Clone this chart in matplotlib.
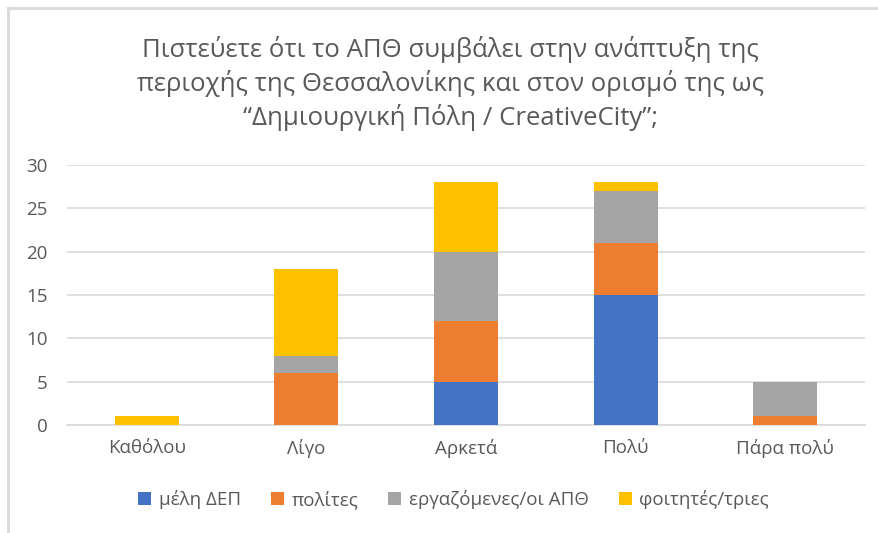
import matplotlib
matplotlib.use("Agg")
import matplotlib.pyplot as plt
from matplotlib.lines import Line2D
import numpy as np

plt.rcParams['font.family'] = ['Open Sans', 'DejaVu Sans']

categories = ["Καθόλου", "Λίγο", "Αρκετά", "Πολύ", "Πάρα πολύ"]
series_names = ["μέλη ΔΕΠ", "πολίτες", "εργαζόμενες/οι ΑΠΘ", "φοιτητές/τριες"]
dep = [0, 0, 5, 15, 0]
polites = [0, 6, 7, 6, 1]
ergazomenoi = [0, 2, 8, 6, 4]
foitites = [1, 10, 8, 1, 0]
colors = ["#4472C4", "#ED7D31", "#A5A5A5", "#FFC000"]

title = ("Πιστεύετε ότι το ΑΠΘ συμβάλει στην ανάπτυξη της\n"
         "περιοχής της Θεσσαλονίκης και στον ορισμό της ως\n"
         "“Δημιουργική Πόλη / CreativeCity”;")

txt = "#595959"

fig = plt.figure(figsize=(8.79, 5.33), dpi=100)
ax = fig.add_axes([0.0762, 0.2026, 0.908, 0.4878])

x = np.arange(len(categories))
bottom = np.zeros(len(categories))
for name, vals, c in zip(series_names, [dep, polites, ergazomenoi, foitites], colors):
    ax.bar(x, vals, 0.4, bottom=bottom, color=c, label=name, zorder=3)
    bottom += np.array(vals)

ax.set_xlim(-0.5, 4.5)
ax.set_ylim(0, 30)
ax.set_yticks(range(0, 31, 5))
ax.set_xticks(x)
ax.set_xticklabels(categories)
ax.grid(axis='y', color='#D9D9D9', linewidth=1.2, zorder=0)
for s in ['top', 'right', 'left']:
    ax.spines[s].set_visible(False)
ax.spines['bottom'].set_color('#D9D9D9')
ax.spines['bottom'].set_linewidth(1.2)
ax.tick_params(axis='both', length=0, colors=txt, labelsize=13.5)
ax.tick_params(axis='x', pad=10)
ax.tick_params(axis='y', pad=14)

fig.text(0.512, 0.843, title, ha='center', va='center', fontsize=18.5,
         color=txt, linespacing=1.33)

ax.legend(loc='center', frameon=False, ncol=4, fontsize=13.5,
          handlelength=0.7, handleheight=0.7, handletextpad=0.4, columnspacing=1.6,
          labelcolor=txt)
ax.get_legend().set_bbox_to_anchor((0.516, 0.062), transform=fig.transFigure)

fig.add_artist(Line2D([0.009, 1.0], [0.985, 0.985], color='#D9D9D9', linewidth=2, transform=fig.transFigure))
fig.add_artist(Line2D([0.009, 0.009], [0.0, 0.985], color='#D9D9D9', linewidth=2, transform=fig.transFigure))

fig.savefig("out.png", dpi=100)
